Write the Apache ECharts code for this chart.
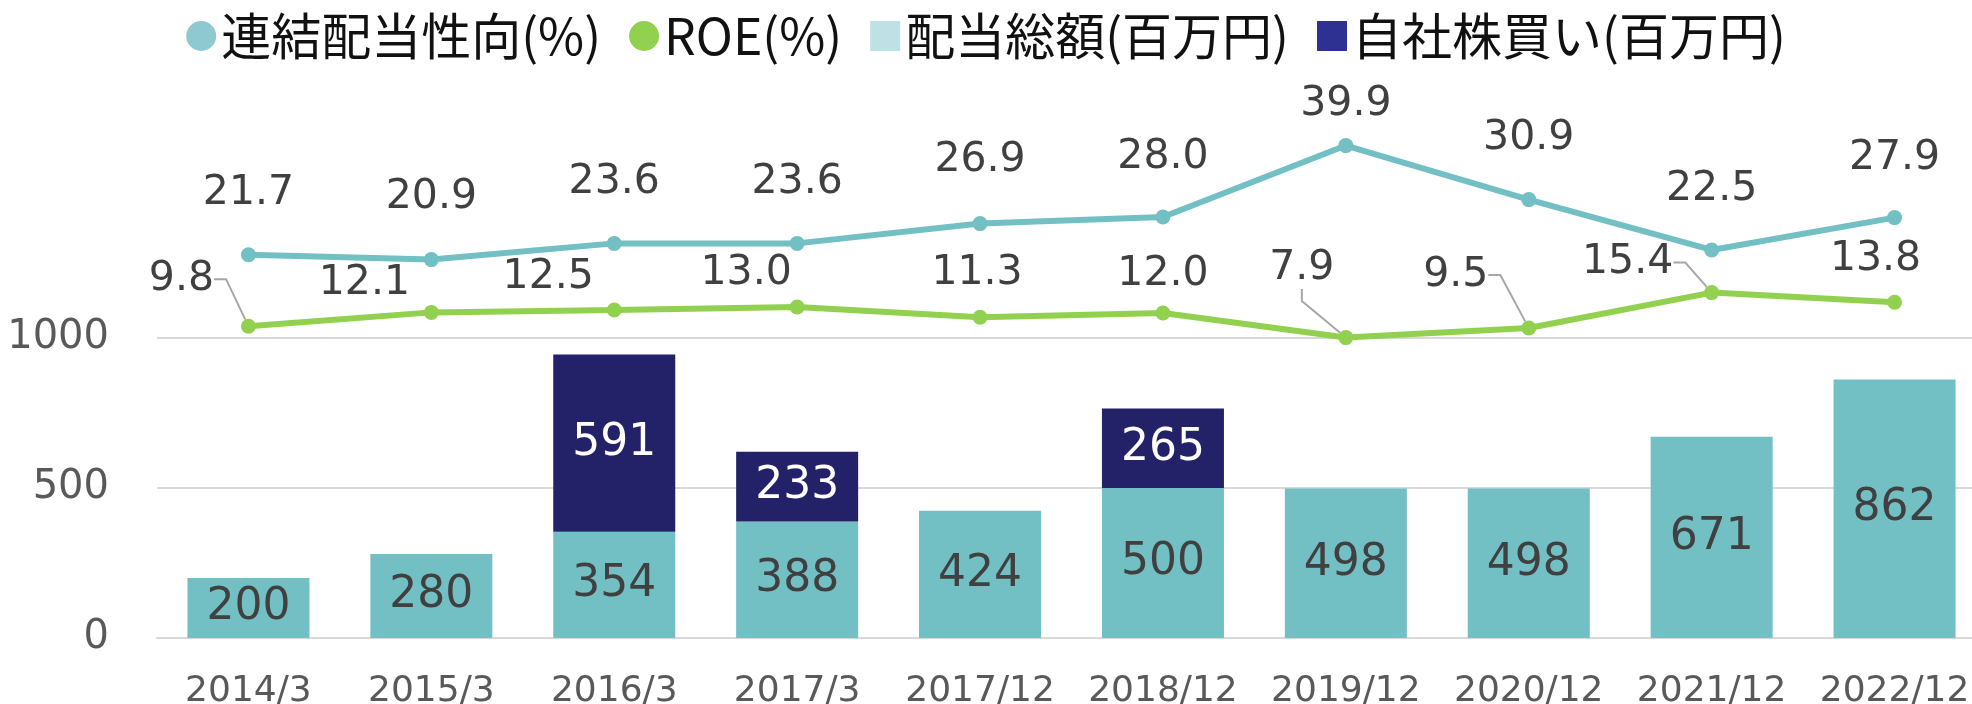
<!DOCTYPE html>
<html>
<head>
<meta charset="utf-8">
<title>配当・自社株買い</title>
<script src="https://cdn.jsdelivr.net/npm/echarts@6/dist/echarts.min.js"></script>
<style>
  html, body { margin: 0; padding: 0; background: #fff; }
  #chart { width: 1972px; height: 704px; }
</style>
</head>
<body>
<div id="chart"></div>
<script>
// data
const categories = ['2014/3', '2015/3', '2016/3', '2017/3', '2017/12', '2018/12', '2019/12', '2020/12', '2021/12', '2022/12']
const payoutRatio = [21.7, 20.9, 23.6, 23.6, 26.9, 28.0, 39.9, 30.9, 22.5, 27.9]
const roe = [9.8, 12.1, 12.5, 13.0, 11.3, 12.0, 7.9, 9.5, 15.4, 13.8]
const dividendTotal = [200, 280, 354, 388, 424, 500, 498, 498, 671, 862]
const buyback = [null, null, 591, 233, null, 265, null, null, null, null]
const yTicks = [0, 500, 1000]

const seriesNames = ['連結配当性向(%)', 'ROE(%)', '配当総額(百万円)', '自社株買い(百万円)']

// label placement (offset of label centre from the point)
const payoutLabelShift = [[0, -61], [0, -62], [0, -61], [0, -61], [0, -63], [0, -60], [0, -41], [0, -61], [0, -61], [0, -59]]
const roeLabelShift = [[-67, -47], [-67, -29], [-66, -33], [-51, -34], [-3, -44], [0, -39], [-44, -69], [-73, -53], [-84, -30], [-19, -43]]
const roeLeader = [true, false, false, false, false, false, true, true, true, false]

const numFont = 'DejaVu Sans'
const cjkFont = 'Noto Sans CJK JP'

const chart = echarts.init(document.getElementById('chart'))

const option = {
    animation: false,
    legend: {
        top: 6,
        left: 'center',
        itemWidth: 30,
        itemHeight: 30,
        itemGap: 28,
        textStyle: {
            fontFamily: cjkFont,
            fontSize: 50,
            color: '#111'
        },
        data: [
            {name: seriesNames[0], icon: 'circle', itemStyle: {color: '#8EC8D0'}},
            {name: seriesNames[1], icon: 'circle', itemStyle: {color: '#92D050'}},
            {name: seriesNames[2], icon: 'rect', itemStyle: {color: '#BDE1E4'}},
            {name: seriesNames[3], icon: 'rect', itemStyle: {color: '#2E3192'}}
        ]
    },
    grid: {
        left: 157,
        right: -14,
        top: 338,
        bottom: 66,
        containLabel: false,
        outerBoundsMode: 'none'
    },
    xAxis: {
        type: 'category',
        data: categories,
        axisTick: {show: false},
        axisLine: {lineStyle: {color: '#D9D9D9', width: 2}},
        axisLabel: {
            interval: 0,
            margin: 36,
            color: '#595959',
            fontFamily: numFont,
            fontSize: 36
        }
    },
    yAxis: [
        {
            type: 'value',
            min: yTicks[0],
            max: yTicks[yTicks.length - 1],
            interval: 500,
            axisLine: {show: false},
            axisTick: {show: false},
            splitLine: {lineStyle: {color: '#D9D9D9', width: 2}},
            axisLabel: {
                margin: 48,
                color: '#595959',
                fontFamily: numFont,
                fontSize: 40,
                formatter: v => String(v)
            }
        },
        {
            // hidden scale for the two ratio lines
            type: 'value',
            show: false,
            min: -42.17,
            max: 7.83,
            splitLine: {show: false}
        }
    ],
    series: [
        {
            name: seriesNames[2],
            type: 'bar',
            stack: 'cash',
            barWidth: 122,
            data: dividendTotal,
            itemStyle: {color: '#72BFC4'},
            label: {
                show: true,
                position: 'inside',
                color: '#404040',
                fontFamily: numFont,
                fontSize: 44
            }
        },
        {
            name: seriesNames[3],
            type: 'bar',
            stack: 'cash',
            barWidth: 122,
            data: buyback,
            itemStyle: {color: '#232167'},
            label: {
                show: true,
                position: 'inside',
                color: '#fff',
                fontFamily: numFont,
                fontSize: 44
            }
        },
        {
            name: seriesNames[0],
            type: 'line',
            yAxisIndex: 1,
            clip: false,
            data: payoutRatio,
            symbol: 'circle',
            symbolSize: 15,
            showAllSymbol: true,
            itemStyle: {color: '#72BFC4'},
            lineStyle: {color: '#72BFC4', width: 6},
            label: {
                show: true,
                position: 'inside',
                color: '#404040',
                fontFamily: numFont,
                fontSize: 41,
                formatter: p => p.value.toFixed(1)
            },
            labelLayout: p => ({dx: payoutLabelShift[p.dataIndex][0], dy: payoutLabelShift[p.dataIndex][1]})
        },
        {
            name: seriesNames[1],
            type: 'line',
            yAxisIndex: 1,
            clip: false,
            data: roe.map((v, i) => ({value: v, labelLine: {show: roeLeader[i]}})),
            symbol: 'circle',
            symbolSize: 15,
            showAllSymbol: true,
            itemStyle: {color: '#92D050'},
            lineStyle: {color: '#92D050', width: 6},
            label: {
                show: true,
                position: 'inside',
                color: '#404040',
                fontFamily: numFont,
                fontSize: 41,
                formatter: p => p.value.toFixed(1)
            },
            labelLine: {
                show: false,
                length2: 12,
                lineStyle: {color: '#A6A6A6', width: 2}
            },
            labelLayout: p => ({dx: roeLabelShift[p.dataIndex][0], dy: roeLabelShift[p.dataIndex][1]})
        }
    ]
}

chart.setOption(option)
</script>
</body>
</html>
